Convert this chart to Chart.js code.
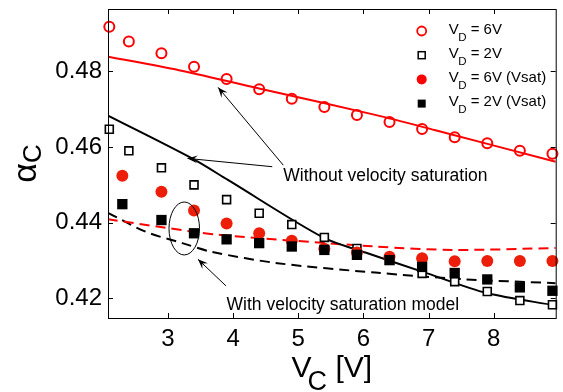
<!DOCTYPE html>
<html lang="en">
<head>
<meta charset="UTF-8">
<title>alpha_C vs V_C</title>
<script src="https://cdn.jsdelivr.net/npm/chart.js"></script>
<style>
  html, body { margin: 0; padding: 0; background: #fff; overflow: hidden; }
  #wrap { width: 563px; height: 392px; }
</style>
</head>
<body>
<div id="wrap"><canvas id="myChart" width="563" height="392"></canvas></div>
<script>
// measured points (V_C in volts)
const vcOpen = [2.1, 2.4, 2.9, 3.4, 3.9, 4.4, 4.9, 5.4, 5.9, 6.4, 6.9, 7.4, 7.9, 8.4, 8.9];
const vcSat  = [2.3, 2.9, 3.4, 3.9, 4.4, 4.9, 5.4, 5.9, 6.4, 6.9, 7.4, 7.9, 8.4, 8.9];
const alpha6V    = [0.4918, 0.4879, 0.4848, 0.4812, 0.4780, 0.4753, 0.4728, 0.4706, 0.4685, 0.4666, 0.4648, 0.4626, 0.4610, 0.4590, 0.4582];
const alpha2V    = [0.4647, 0.4590, 0.4545, 0.4500, 0.4461, 0.4425, 0.4395, 0.4361, 0.4332, 0.4301, 0.4266, 0.4244, 0.4218, 0.4194, 0.4183];
const alpha6VSat = [0.4524, 0.4482, 0.4432, 0.4398, 0.4372, 0.4352, 0.4331, 0.4321, 0.4310, 0.4306, 0.4298, 0.4299, 0.4299, 0.4299];
const alpha2VSat = [0.4449, 0.4407, 0.4372, 0.4356, 0.4346, 0.4337, 0.4328, 0.4315, 0.4301, 0.4283, 0.4267, 0.4250, 0.4229, 0.4220];

// model curves
const vcModel6     = [2.08, 3.17, 4.5, 6.18, 7.09, 8.95];
const alphaModel6  = [0.4839, 0.4803, 0.4751, 0.4685, 0.4645, 0.4561];
const vcModel2     = [2.08, 3.39, 3.92, 5.38, 6.03, 6.98, 7.89, 8.95];
const alphaModel2  = [0.4683, 0.4568, 0.4513, 0.4361, 0.4321, 0.4266, 0.4214, 0.4181];
const vcSat6       = [2.08, 3.39, 3.77, 6.18, 7.39, 8.95];
const alphaSat6    = [0.4409, 0.4376, 0.4368, 0.4337, 0.4328, 0.4333];
const vcSat2       = [2.08, 2.66, 3.22, 3.67, 4.68, 6.18, 7.49, 8.95];
const alphaSat2    = [0.4426, 0.4376, 0.4346, 0.4323, 0.4293, 0.4268, 0.4251, 0.4240];

const xTicks = [3, 4, 5, 6, 7, 8];
const yTicks = [0.42, 0.44, 0.46, 0.48];
const legendValues = ['6V', '2V', '6V (Vsat)', '2V (Vsat)'];

const FONT = '"Liberation Sans", Arial, Helvetica, sans-serif';
const RED = '#ff0000';
const RED_FILL = '#ec1e0a';

function pts(xs, ys) { return xs.map((x, i) => ({ x: x, y: ys[i] })); }

function curve(xs, ys, color, dash) {
    return {
        data: pts(xs, ys), showLine: true, borderColor: color, borderWidth: 2,
        borderDash: dash || [], pointRadius: 0, tension: 0.3,
        order: 2
    };
}

// annotation geometry in data units
const arrows = [
    { from: [4.60, 0.4548], to: [3.30, 0.45700] },
    { from: [4.77, 0.4552], to: [3.77, 0.47577] },
    { from: [3.89, 0.4233], to: [3.46, 0.43033] }
];
const notes = [
    { text: 'Without velocity saturation', at: [4.77, 0.4523] },
    { text: 'With velocity saturation model', at: [3.90, 0.4183] }
];
const ellipse = { c: [3.25, 0.43847], rx: 0.234, ry: 0.0070 };

function drawMarker(ctx, kind, x, y) {
    ctx.save();
    ctx.lineWidth = kind === 'circle' ? 1.8 : 1.5;
    if (kind === 'circle') {
        ctx.strokeStyle = RED; ctx.beginPath(); ctx.arc(x, y, 4.5, 0, Math.PI * 2); ctx.stroke();
    } else if (kind === 'square') {
        ctx.strokeStyle = '#000'; ctx.strokeRect(x - 3.5, y - 3.5, 7, 7);
    } else if (kind === 'dot') {
        ctx.fillStyle = RED; ctx.beginPath(); ctx.arc(x, y, 5, 0, Math.PI * 2); ctx.fill();
    } else {
        ctx.fillStyle = '#000'; ctx.fillRect(x - 4, y - 4, 8, 8);
    }
    ctx.restore();
}

function arrowHead(ctx, x0, y0, x1, y1) {
    const a = Math.atan2(y1 - y0, x1 - x0);
    const L = 10, W = 4;
    const bx = x1 - L * Math.cos(a), by = y1 - L * Math.sin(a);
    const nx = x1 - 0.6 * L * Math.cos(a), ny = y1 - 0.6 * L * Math.sin(a);
    ctx.beginPath();
    ctx.moveTo(x1, y1);
    ctx.lineTo(bx + W * Math.sin(a), by - W * Math.cos(a));
    ctx.lineTo(nx, ny);
    ctx.lineTo(bx - W * Math.sin(a), by + W * Math.cos(a));
    ctx.closePath();
    ctx.fill();
}

const decor = {
    id: 'decor',
    afterDatasetsDraw(chart) {
        const ctx = chart.ctx, a = chart.chartArea;
        const xs = chart.scales.x, ys = chart.scales.y;
        ctx.save();
        // box
        ctx.strokeStyle = '#000'; ctx.lineWidth = 1;
        ctx.strokeRect(a.left + 0.5, a.top + 0.5, a.right - a.left, a.bottom - a.top);
        // inward ticks on all four sides
        ctx.beginPath();
        xTicks.forEach(v => {
            const px = Math.round(xs.getPixelForValue(v)) + 0.5;
            ctx.moveTo(px, a.bottom); ctx.lineTo(px, a.bottom - 5);
            ctx.moveTo(px, a.top); ctx.lineTo(px, a.top + 5);
        });
        yTicks.forEach(v => {
            const py = Math.round(ys.getPixelForValue(v)) + 0.5;
            ctx.moveTo(a.left, py); ctx.lineTo(a.left + 5, py);
            ctx.moveTo(a.right, py); ctx.lineTo(a.right - 5, py);
        });
        ctx.stroke();

        // ellipse and arrows
        ctx.lineWidth = 1;
        ctx.beginPath();
        ctx.ellipse(xs.getPixelForValue(ellipse.c[0]), ys.getPixelForValue(ellipse.c[1]),
            xs.getPixelForValue(ellipse.c[0] + ellipse.rx) - xs.getPixelForValue(ellipse.c[0]),
            ys.getPixelForValue(ellipse.c[1]) - ys.getPixelForValue(ellipse.c[1] + ellipse.ry),
            0, 0, Math.PI * 2);
        ctx.stroke();
        ctx.fillStyle = '#000';
        arrows.forEach(ar => {
            const x0 = xs.getPixelForValue(ar.from[0]), y0 = ys.getPixelForValue(ar.from[1]);
            const x1 = xs.getPixelForValue(ar.to[0]), y1 = ys.getPixelForValue(ar.to[1]);
            ctx.beginPath(); ctx.moveTo(x0, y0); ctx.lineTo(x1, y1); ctx.stroke();
            arrowHead(ctx, x0, y0, x1, y1);
        });
        ctx.font = '17.5px ' + FONT;
        ctx.textBaseline = 'middle';
        ctx.textAlign = 'left';
        notes.forEach(n => {
            ctx.fillText(n.text, xs.getPixelForValue(n.at[0]), ys.getPixelForValue(n.at[1]));
        });

        // legend
        const kinds = ['circle', 'square', 'dot', 'box'];
        legendValues.forEach((val, i) => {
            const my = a.top + 22 + i * 24.2;
            const mx = a.right - 134;
            drawMarker(ctx, kinds[i], mx, my);
            let tx = mx + 27;
            ctx.textBaseline = 'alphabetic';
            ctx.font = '15px ' + FONT;
            ctx.fillText('V', tx, my + 2.8);
            tx += ctx.measureText('V').width - 0.5;
            ctx.font = '11.5px ' + FONT;
            ctx.fillText('D', tx, my + 9.5);
            tx += ctx.measureText('D').width;
            ctx.font = '15px ' + FONT;
            ctx.fillText(' = ' + val, tx, my + 2.8);
        });

        // axis titles
        ctx.textBaseline = 'alphabetic';
        ctx.font = '30px ' + FONT;
        const wV = ctx.measureText('V').width, wB = ctx.measureText(' [V]').width;
        ctx.font = '27px ' + FONT;
        const wC = ctx.measureText('C').width;
        let sx = (a.left + a.right) / 2 - (wV - 4 + wC + wB) / 2;
        ctx.font = '30px ' + FONT;
        ctx.fillText('V', sx, 377);
        sx += wV - 4;
        ctx.font = '27px ' + FONT;
        ctx.fillText('C', sx, 390);
        sx += wC;
        ctx.font = '30px ' + FONT;
        ctx.fillText(' [V]', sx, 377);

        ctx.translate(0, (a.top + a.bottom) / 2);
        ctx.rotate(-Math.PI / 2);
        ctx.font = '34px ' + FONT;
        const wa = ctx.measureText('\u03b1').width;
        ctx.font = '26px ' + FONT;
        const wc = ctx.measureText('C').width;
        let ry = -(wa + wc) / 2;
        ctx.font = '34px ' + FONT;
        ctx.fillText('\u03b1', ry, 36);
        ctx.font = '26px ' + FONT;
        ctx.fillText('C', ry + wa, 41);
        ctx.restore();
    }
};

const ctx = document.getElementById('myChart').getContext('2d');
const myChart = new Chart(ctx, {
    type: 'scatter',
    data: {
        datasets: [
            { data: pts(vcOpen, alpha6V), pointStyle: 'circle', pointRadius: 5, pointBorderWidth: 2,
              pointBorderColor: RED, pointBackgroundColor: 'rgba(0,0,0,0)', clip: false, order: 1 },
            { data: pts(vcOpen, alpha2V), pointStyle: 'rect', pointRadius: 5.6, pointBorderWidth: 1.6,
              pointBorderColor: '#000', pointBackgroundColor: '#fff', clip: false, order: 1 },
            { data: pts(vcSat, alpha2VSat), pointStyle: 'rect', pointRadius: 7.3, pointBorderWidth: 0,
              pointBorderColor: '#000', pointBackgroundColor: '#000', clip: false, order: 0 },
            { data: pts(vcSat, alpha6VSat), pointStyle: 'circle', pointRadius: 6, pointBorderWidth: 0,
              pointBorderColor: RED_FILL, pointBackgroundColor: RED_FILL, clip: false, order: 0 },
            curve(vcModel6, alphaModel6, RED),
            curve(vcModel2, alphaModel2, '#000'),
            curve(vcSat6, alphaSat6, RED, [10, 6]),
            curve(vcSat2, alphaSat2, '#000', [10, 6])
        ]
    },
    options: {
        responsive: false,
        animation: false,
        events: [],
        layout: { padding: { top: 9, right: 0, left: 0, bottom: 0 } },
        plugins: { legend: { display: false }, tooltip: { enabled: false } },
        scales: {
            x: {
                type: 'linear', min: 2.08, max: 8.95,
                afterBuildTicks: s => { s.ticks = xTicks.map(v => ({ value: v })); },
                afterFit: s => { s.height = 74; s.paddingLeft = 0; s.paddingRight = 0; },
                grid: { display: false, drawTicks: false },
                border: { display: false },
                ticks: { font: { family: FONT, size: 24 }, color: '#000', padding: 7,
                         maxRotation: 0, autoSkip: false, callback: v => String(v) }
            },
            y: {
                type: 'linear', min: 0.4148, max: 0.4965,
                afterBuildTicks: s => { s.ticks = yTicks.map(v => ({ value: v })); },
                afterFit: s => { s.width = 108; s.paddingTop = 0; s.paddingBottom = 0; },
                grid: { display: false, drawTicks: false },
                border: { display: false },
                ticks: { font: { family: FONT, size: 24 }, color: '#000', padding: 6,
                         autoSkip: false, callback: v => v.toFixed(2) }
            }
        }
    },
    plugins: [decor]
});
</script>
</body>
</html>
